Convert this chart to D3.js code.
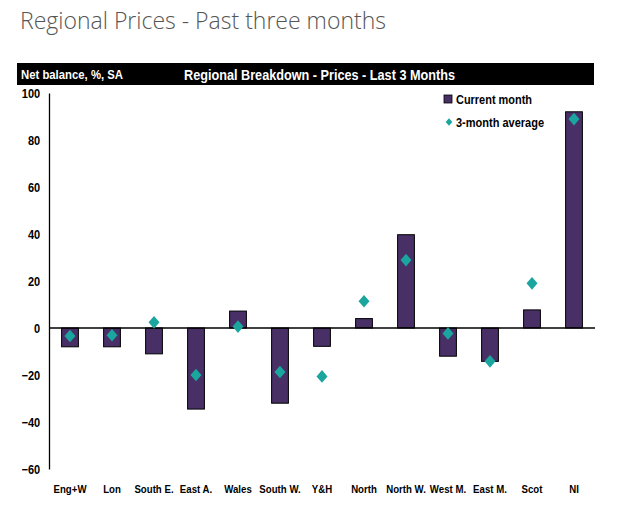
<!DOCTYPE html>
<html><head><meta charset="utf-8">
<script src="https://cdn.jsdelivr.net/npm/d3@7"></script>
<style>
body{margin:0;background:#fff;}
svg{display:block;}
</style></head>
<body><svg id="c" width="625" height="525"></svg>
<script>
const categories = ["Eng+W","Lon","South E.","East A.","Wales","South W.","Y&H","North","North W.","West M.","East M.","Scot","NI"];
const currentMonth = [-8, -8, -11, -34.5, 7.2, -32, -7.8, 4, 39.7, -12, -14.2, 7.7, 92];
const threeMonthAvg = [-3.4, -3.1, 2.4, -20, 0.6, -18.7, -20.6, 11.4, 28.9, -2.3, -14.2, 19, 88.9];
const yTicks = [100, 80, 60, 40, 20, 0, -20, -40, -60];

const svg = d3.select("#c");
const lblFont = "'Liberation Sans',Arial,sans-serif";

svg.append("text").attr("x",20).attr("y",29)
  .attr("font-family","'Open Sans',sans-serif").attr("font-weight",300)
  .attr("font-size",23).attr("fill","#555").text("Regional Prices - Past three months");

svg.append("rect").attr("x",17).attr("y",63).attr("width",577).attr("height",22).attr("fill","#000");
svg.append("text").attr("x",21).attr("y",79).attr("fill","#fff")
  .attr("font-family",lblFont).attr("font-weight","bold").attr("font-size",13)
  .attr("textLength",102).attr("lengthAdjust","spacingAndGlyphs").text("Net balance, %, SA");
svg.append("text").attr("x",184).attr("y",80).attr("fill","#fff")
  .attr("font-family",lblFont).attr("font-weight","bold").attr("font-size",15.5)
  .attr("textLength",271).attr("lengthAdjust","spacingAndGlyphs").text("Regional Breakdown - Prices - Last 3 Months");

const x = d3.scaleBand().domain(categories).range([49,595]).paddingInner(0.6).paddingOuter(0.3);
const y = d3.scaleLinear().domain([-60,100]).range([469,93]);

// y axis
const yAxis = svg.append("g").attr("transform","translate(49,0)")
  .call(d3.axisLeft(y).tickValues(yTicks).tickSize(0).tickPadding(10));
yAxis.select(".domain").attr("stroke","#000").attr("stroke-width",1.3);
yAxis.selectAll("text").attr("font-family",lblFont).attr("font-weight","bold").attr("font-size",12.5).attr("fill","#000")
  .attr("transform","scale(0.88,1)");

// bars
svg.append("g").selectAll("rect").data(categories).join("rect")
  .attr("x",d=>x(d))
  .attr("width",x.bandwidth())
  .attr("y",(d,i)=>Math.min(y(currentMonth[i]),y(0)))
  .attr("height",(d,i)=>Math.abs(y(currentMonth[i])-y(0)))
  .attr("fill","#482f66").attr("stroke","#000").attr("stroke-width",1);

// zero line
svg.append("line").attr("x1",49).attr("x2",595).attr("y1",y(0)).attr("y2",y(0)).attr("stroke","#000").attr("stroke-width",1.3);

// diamonds
const sq = d3.symbol().type(d3.symbolSquare).size(60);
svg.append("g").selectAll("path").data(categories).join("path")
  .attr("d",sq)
  .attr("transform",(d,i)=>`translate(${x(d)+x.bandwidth()/2},${y(threeMonthAvg[i])}) scale(1,1.15) rotate(45)`)
  .attr("fill","#1aa69f");

// x labels
const xAxis = svg.append("g").attr("transform","translate(0,485)")
  .call(d3.axisBottom(x).tickSize(0).tickPadding(0));
xAxis.select(".domain").remove();
xAxis.selectAll("text").attr("font-family",lblFont).attr("font-weight","bold").attr("font-size",11.5).attr("fill","#000")
  .attr("transform","scale(0.84,1)");

// legend
const lg = svg.append("g");
lg.append("rect").attr("x",444).attr("y",95).attr("width",8).attr("height",8).attr("fill","#482f66").attr("stroke","#000").attr("stroke-width",0.8);
lg.append("text").attr("x",456).attr("y",104).attr("font-family",lblFont).attr("font-weight","bold").attr("font-size",12.5)
  .attr("textLength",76).attr("lengthAdjust","spacingAndGlyphs").text("Current month");
lg.append("path").attr("d",d3.symbol().type(d3.symbolSquare).size(22)).attr("transform","translate(449,122) scale(1,1.15) rotate(45)").attr("fill","#1aa69f");
lg.append("text").attr("x",456).attr("y",127).attr("font-family",lblFont).attr("font-weight","bold").attr("font-size",12.5)
  .attr("textLength",88).attr("lengthAdjust","spacingAndGlyphs").text("3-month average");
</script></body></html>
